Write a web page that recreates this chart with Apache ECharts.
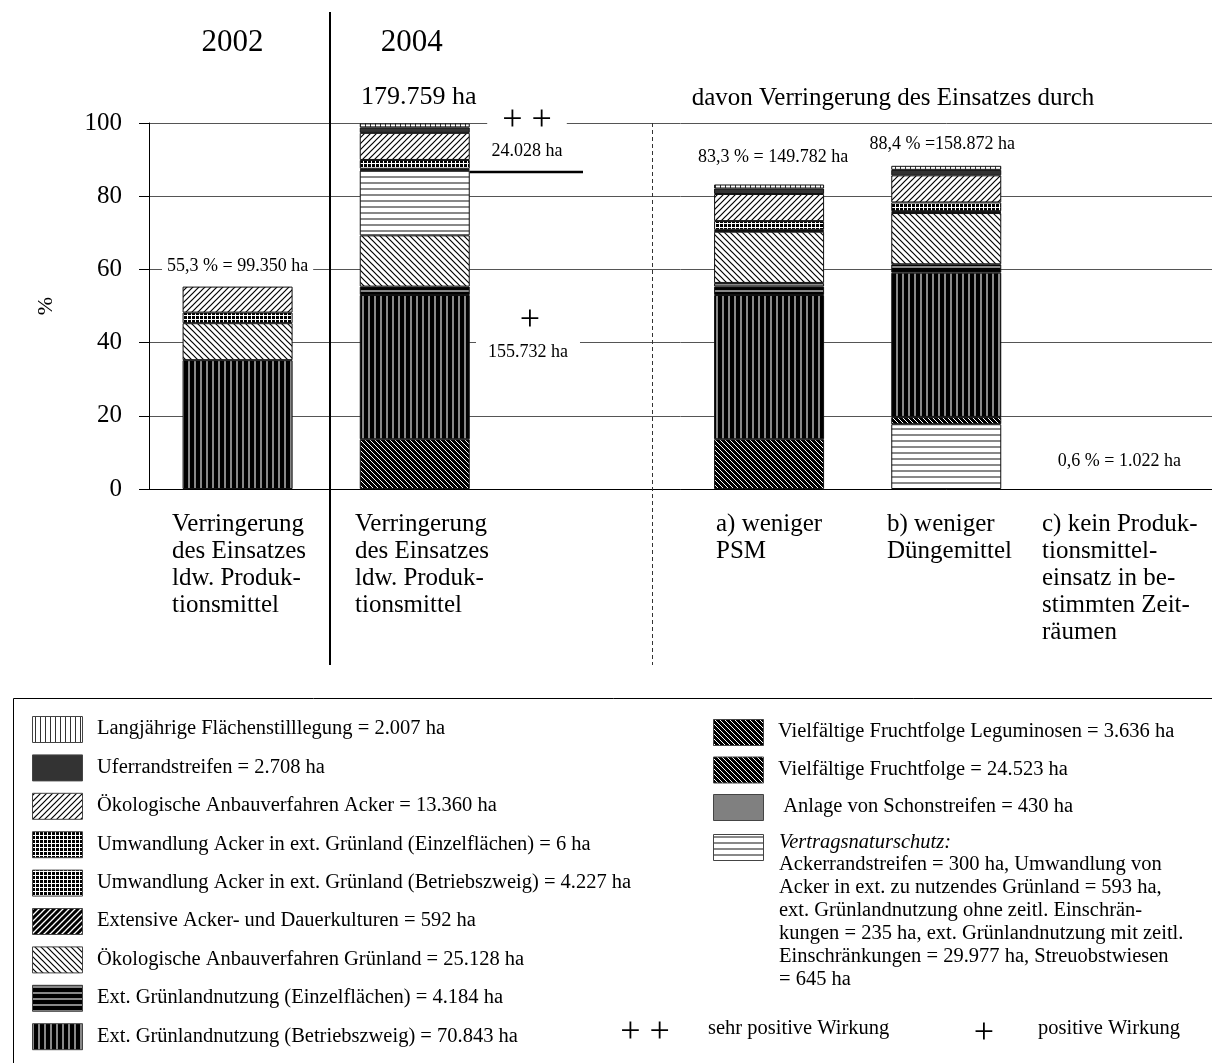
<!DOCTYPE html>
<html><head><meta charset="utf-8">
<script src="https://cdn.jsdelivr.net/npm/echarts@6/dist/echarts.min.js"></script>
<style>html,body{margin:0;padding:0;background:#fff}#c{width:1212px;height:1063px}</style>
</head><body><div id="c"></div>
<script>
// ---------------- DATA ----------------
const categories = ['2002', '2004', '', 'a', 'b', 'c'];
const yTicks = [0, 20, 40, 60, 80, 100];
const categoryLabels = [
  'Verringerung\ndes Einsatzes\nldw. Produk-\ntionsmittel',
  'Verringerung\ndes Einsatzes\nldw. Produk-\ntionsmittel',
  '',
  'a) weniger\nPSM',
  'b) weniger\nDüngemittel',
  'c) kein Produk-\ntionsmittel-\neinsatz in be-\nstimmten Zeit-\nräumen'
];
// segment values in % (stack order bottom -> top)
const vnsBottom    = [null, null, null, null, 17.7, null];
const leguminosen  = [null, null, null, null, 2.0, null];
const fruchtfolge  = [null, 13.6, null, 13.6, null, null];
const gruenBetrieb = [35.2, 39.4, null, 39.4, 39.4, null];
const gruenEinzel  = [null, 2.3, null, 2.3, 2.3, null];
const vnsLow       = [null, null, null, 1.0, null, null];
const oekoGruen    = [10.1, 14.0, null, 14.0, 14.0, null];
const vnsHigh      = [null, 17.7, null, null, null, null];
const schon        = [null, 0.2, null, 0.2, 0.2, null];
const extAcker     = [null, 0.3, null, 0.3, 0.3, null];
const umwBetrieb   = [2.9, 2.4, null, 2.4, 2.4, null];
const oekoAcker    = [7.1, 7.4, null, 7.4, 7.4, null];
const ufer         = [null, 1.5, null, 1.5, 1.5, null];
const langj        = [null, 1.1, null, 1.1, 1.1, null];
// bar total labels
const totalValues = [55.3, 100, null, 83.3, 88.4, 0.6];
const totalLabels = ['55,3 % = 99.350 ha', '179.759 ha', '', '83,3 % = 149.782 ha', '88,4 % =158.872 ha', '0,6 % = 1.022 ha'];
const splitValue = 86.6; // ++ / + boundary in 2004 bar
const legendLeft = [
  ['langj', 'Langjährige Flächenstilllegung = 2.007 ha'],
  ['ufer', 'Uferrandstreifen = 2.708 ha'],
  ['oekoAcker', 'Ökologische Anbauverfahren Acker = 13.360 ha'],
  ['umw', 'Umwandlung Acker in ext. Grünland (Einzelflächen) = 6 ha'],
  ['umw', 'Umwandlung Acker in ext. Grünland (Betriebszweig) = 4.227 ha'],
  ['extAcker', 'Extensive Acker- und Dauerkulturen = 592 ha'],
  ['oekoGruen', 'Ökologische Anbauverfahren Grünland = 25.128 ha'],
  ['einzel', 'Ext. Grünlandnutzung (Einzelflächen) = 4.184 ha'],
  ['betrieb', 'Ext. Grünlandnutzung (Betriebszweig) = 70.843 ha']
];
const legendRight = [
  ['ff', 'Vielfältige Fruchtfolge Leguminosen = 3.636 ha'],
  ['ff', 'Vielfältige Fruchtfolge = 24.523 ha'],
  ['schon', ' Anlage von Schonstreifen = 430 ha']
];
const vnsHeader = 'Vertragsnaturschutz:';
const vnsText = 'Ackerrandstreifen = 300 ha, Umwandlung von\nAcker in ext. zu nutzendes Grünland = 593 ha,\next. Grünlandnutzung ohne zeitl. Einschrän-\nkungen = 235 ha, ext. Grünlandnutzung mit zeitl.\nEinschränkungen = 29.977 ha, Streuobstwiesen\n= 645 ha';

// ---------------- PATTERNS ----------------
function tile(s, bg, draw) {
  const c = document.createElement('canvas'); c.width = s; c.height = s;
  const g = c.getContext('2d'); g.fillStyle = bg; g.fillRect(0, 0, s, s);
  if (draw) draw(g, s);
  return { image: c, repeat: 'repeat' };
}
function diag(g, s, color, w, dir) {
  g.strokeStyle = color; g.lineWidth = w; g.beginPath();
  if (dir > 0) {
    g.moveTo(-1, s + 1); g.lineTo(s + 1, -1);
    g.moveTo(-s / 2 - 1, s / 2 + 1); g.lineTo(s / 2 + 1, -s / 2 - 1);
    g.moveTo(s / 2 - 1, s * 1.5 + 1); g.lineTo(s * 1.5 + 1, s / 2 - 1);
  } else {
    g.moveTo(-1, -1); g.lineTo(s + 1, s + 1);
    g.moveTo(-s / 2 - 1, s / 2 - 1); g.lineTo(s / 2 + 1, s * 1.5 + 1);
    g.moveTo(s / 2 - 1, -s / 2 - 1); g.lineTo(s * 1.5 + 1, s / 2 + 1);
  }
  g.stroke();
}
const P = {
  langj: tile(5, '#fff', (g, s) => { g.fillStyle = '#333'; g.fillRect(0, 0, 1, s); }),
  ufer: '#333333',
  oekoAcker: tile(6, '#fff', (g, s) => diag(g, s, '#000', 1.2, 1)),
  umw: tile(4, '#000', (g, s) => { g.fillStyle = '#fff'; g.fillRect(3, 0, 1, s); g.fillRect(0, 3, s, 1); }),
  extAcker: tile(6, '#000', (g, s) => diag(g, s, '#fff', 1.3, 1)),
  oekoGruen: tile(6, '#fff', (g, s) => diag(g, s, '#000', 1.2, -1)),
  einzel: tile(6, '#000', (g, s) => { g.fillStyle = '#888'; g.fillRect(0, 2, s, 2); }),
  betrieb: tile(6, '#000', (g, s) => { g.fillStyle = '#888'; g.fillRect(2, 0, 2, s); }),
  ff: tile(5, '#000', (g, s) => diag(g, s, '#fff', 1, -1)),
  schon: '#808080',
  vns: tile(6, '#fff', (g, s) => { g.fillStyle = '#888'; g.fillRect(0, 2, s, 2); })
};

const seriesDefs = [
  ['Vertragsnaturschutz', vnsBottom, 'vns'],
  ['Vielfältige Fruchtfolge Leguminosen', leguminosen, 'ff'],
  ['Vielfältige Fruchtfolge', fruchtfolge, 'ff'],
  ['Ext. Grünlandnutzung (Betriebszweig)', gruenBetrieb, 'betrieb'],
  ['Ext. Grünlandnutzung (Einzelflächen)', gruenEinzel, 'einzel'],
  ['Vertragsnaturschutz ', vnsLow, 'vns'],
  ['Ökologische Anbauverfahren Grünland', oekoGruen, 'oekoGruen'],
  ['Vertragsnaturschutz  ', vnsHigh, 'vns'],
  ['Anlage von Schonstreifen', schon, 'schon'],
  ['Extensive Acker- und Dauerkulturen', extAcker, 'extAcker'],
  ['Umwandlung Acker in ext. Grünland', umwBetrieb, 'umw'],
  ['Ökologische Anbauverfahren Acker', oekoAcker, 'oekoAcker'],
  ['Uferrandstreifen', ufer, 'ufer'],
  ['Langjährige Flächenstilllegung', langj, 'langj']
];

const FONT = 'Liberation Serif, Times New Roman, serif';
const chart = echarts.init(document.getElementById('c'), null, { renderer: 'canvas' });
chart.setOption({
  animation: false,
  backgroundColor: '#fff',
  grid: { left: 149, right: 0, top: 123, bottom: 574, containLabel: false },
  xAxis: {
    type: 'category', data: categories,
    axisLine: { show: true, lineStyle: { color: '#000', width: 1 } },
    axisTick: { show: false }, axisLabel: { show: false }, splitLine: { show: false }
  },
  yAxis: {
    type: 'value', min: yTicks[0], max: yTicks[yTicks.length - 1], interval: 20,
    name: '%', nameLocation: 'middle', nameRotate: 90, nameGap: 92,
    nameTextStyle: { fontFamily: FONT, fontSize: 22, color: '#000' },
    axisLine: { show: true, lineStyle: { color: '#000', width: 1 } },
    axisTick: { show: true, length: 10, lineStyle: { color: '#000' } },
    axisLabel: { fontFamily: FONT, fontSize: 25, color: '#000', margin: 27 },
    splitLine: { show: true, lineStyle: { color: '#555', width: 1 } }
  },
  series: seriesDefs.map(d => ({
    type: 'bar', name: d[0], stack: 'all', data: d[1], barWidth: 110,
    itemStyle: { color: P[d[2]], borderColor: '#111', borderWidth: 1 },
    emphasis: { disabled: true }, silent: true
  }))
});

// ---------------- ANNOTATIONS ----------------
const px = (i, v) => chart.convertToPixel({ gridIndex: 0 }, [i, v]);
function T(text, x, y, size, opts) {
  opts = opts || {};
  const style = Object.assign({
    text: text, x: x, y: y, fill: '#000', fontFamily: FONT, fontSize: size,
    align: opts.align || 'center', textAlign: opts.align || 'center',
    verticalAlign: opts.va || 'middle', textVerticalAlign: opts.va || 'middle'
  }, opts.style || {});
  return { type: 'text', z: 50, style: style };
}
const g = [];
// column titles
g.push(T('2002', px(0, 100)[0] - 5, 43, 31));
g.push(T('2004', px(1, 100)[0] - 3, 43, 31));
// totals
totalLabels.forEach((t, i) => {
  if (!t) return;
  const p = px(i, totalValues[i]);
  const big = i === 1;
  const dx = [0, 4, 0, 4, -4, -4][i];
  const dy = [-20, -26, 0, -27, -21, -26][i];
  g.push(T(t, p[0] + dx, p[1] + dy, big ? 26 : 18,
    { style: i === 0 ? { backgroundColor: '#fff', padding: [2, 5] } : {} }));
});
g.push(T('davon Verringerung des Einsatzes durch', 893, 98, 25));
// ++ / + annotations
const bar2004Right = px(1, 100)[0] + 55;
const ySplit = px(1, splitValue)[1];
g.push(T('+ +', 527, px(1, 100)[1] - 2, 36, { style: { backgroundColor: '#fff', padding: [0, 15] } }));
g.push(T('24.028 ha', 527, 151, 18));
g.push({ type: 'line', z: 50, shape: { x1: bar2004Right, y1: ySplit, x2: 583, y2: ySplit }, style: { stroke: '#000', lineWidth: 2.5 } });
g.push(T('+', 530, 321, 36));
g.push(T('155.732 ha', 528, 352, 18, { style: { backgroundColor: '#fff', padding: [4, 12] } }));
// separators
g.push({ type: 'line', z: 50, shape: { x1: 330, y1: 12, x2: 330, y2: 665 }, style: { stroke: '#000', lineWidth: 2 } });
g.push({ type: 'line', z: 50, shape: { x1: 652.5, y1: 123, x2: 652.5, y2: 665 }, style: { stroke: '#333', lineWidth: 1, lineDash: [4, 3] } });
// category labels
const labelX = [172, 355, 0, 716, 887, 1042];
categoryLabels.forEach((t, i) => {
  if (!t) return;
  g.push(T(t, labelX[i], 511, 25, { align: 'left', va: 'top', style: { lineHeight: 27 } }));
});
// legend frame
g.push({ type: 'rect', z: 50, shape: { x: 13.5, y: 698.5, width: 1300, height: 500 }, style: { fill: 'none', stroke: '#000', lineWidth: 1 } });
const LF = 20.5;
legendLeft.forEach((e, i) => {
  const top = 716 + i * 38.4;
  g.push({ type: 'rect', z: 50, shape: { x: 32.5, y: top + 0.5, width: 50, height: 26 }, style: { fill: P[e[0]], stroke: '#444', lineWidth: 1 } });
  g.push(T(e[1], 97, top + 13, LF, { align: 'left' }));
});
legendRight.forEach((e, i) => {
  const top = 719 + i * 37.5;
  g.push({ type: 'rect', z: 50, shape: { x: 713.5, y: top + 0.5, width: 50, height: 26 }, style: { fill: P[e[0]], stroke: '#444', lineWidth: 1 } });
  g.push(T(e[1], 778, top + 13, LF, { align: 'left' }));
});
g.push({ type: 'rect', z: 50, shape: { x: 713.5, y: 834.5, width: 50, height: 26 }, style: { fill: P.vns, stroke: '#444', lineWidth: 1 } });
g.push(T(vnsHeader, 779, 843, LF, { align: 'left', style: { fontStyle: 'italic' } }));
g.push(T(vnsText, 779, 853.5, LF, { align: 'left', va: 'top', style: { lineHeight: 23 } }));
g.push(T('+ +', 645, 1033, 36));
g.push(T('sehr positive Wirkung', 708, 1029, LF, { align: 'left' }));
g.push(T('+', 984, 1034, 36));
g.push(T('positive Wirkung', 1038, 1029, LF, { align: 'left' }));
chart.setOption({ graphic: { elements: g } });
</script>
</body></html>
